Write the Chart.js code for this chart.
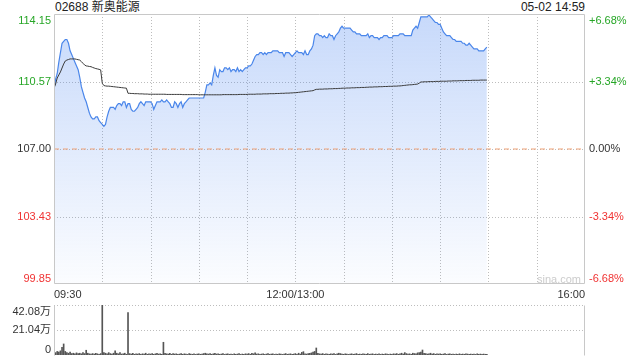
<!DOCTYPE html>
<html><head><meta charset="utf-8">
<script src="https://cdn.jsdelivr.net/npm/chart.js@4.4.1/dist/chart.umd.min.js"></script>
<style>
html,body{margin:0;padding:0;background:#fff;width:640px;height:360px;overflow:hidden;}
#wrap{position:relative;width:640px;height:360px;font-family:"Liberation Sans","Noto Sans CJK SC",Arial,sans-serif;}
canvas{position:absolute;left:0;}
#title{position:absolute;left:55px;top:0;font-size:12px;line-height:15px;color:#222;white-space:nowrap;}
#stamp{position:absolute;right:55px;top:0;font-size:12px;line-height:15px;color:#222;white-space:nowrap;}
#wm{position:absolute;left:537px;top:272px;font-size:11px;line-height:14px;color:#cccccc;}
</style></head>
<body><div id="wrap">
<div id="title">02688 新奥能源</div><div id="stamp">05-02 14:59</div>
<canvas id="main" width="640" height="300" style="top:0"></canvas>
<canvas id="vol" width="640" height="60" style="top:300px"></canvas>
<div id="wm">sina.com</div>
</div>
<script>
// ---- data ----
const prevClose = 107.00;
const sessionMinutes = 330; // 09:30-12:00 + 13:00-16:00
const timeTicks = [0, 150, 330];
const timeLabels = ["09:30", "12:00/13:00", "16:00"];
const gridMinutes = [0,30,60,90,120,150,180,210,240,270,300,330];
const yTicks = [99.85, 103.425, 107.00, 110.575, 114.15];
const yTickLabels = ["99.85", "103.43", "107.00", "110.57", "114.15"];
const pctTickLabels = ["-6.68%", "-3.34%", "0.00%", "+3.34%", "+6.68%"];
const volTicks = [0, 21.04, 42.08];
const volTickLabels = ["0", "21.04万", "42.08万"];

const prices = [
110.2,110.7,111.0,111.6,112.1,112.6,112.7,112.8,112.8,112.6,
112.2,112.0,111.8,111.6,111.4,111.2,110.8,110.3,110.0,109.7,
109.5,109.2,108.9,108.7,108.6,108.6,108.7,108.7,108.5,108.4,
108.3,108.2,108.3,108.7,109.0,109.2,109.2,109.2,109.1,109.3,
109.4,109.4,109.3,109.5,109.5,109.2,109.4,109.4,109.1,109.0,
109.0,109.1,109.2,109.4,109.5,109.4,109.3,109.5,109.5,109.5,
109.5,109.4,109.1,109.3,109.5,109.5,109.5,109.6,109.5,109.5,
109.6,109.5,109.4,109.2,109.2,109.5,109.4,109.2,109.4,109.5,
109.2,109.4,109.5,109.6,109.7,109.7,109.7,109.7,109.7,109.7,
109.7,109.7,109.7,109.7,110.0,110.4,110.4,110.5,110.4,110.9,
111.3,110.9,110.8,111.2,111.1,111.1,111.3,111.3,111.2,111.3,
111.1,111.2,111.2,111.1,111.3,111.1,111.2,111.1,111.2,111.3,
111.3,111.4,111.4,111.5,111.7,111.9,112.0,112.0,112.1,112.1,
112.0,112.1,112.0,112.1,112.1,112.1,112.2,112.2,112.2,112.2,
112.1,112.1,112.1,111.9,112.1,112.1,112.1,112.0,111.9,112.0,
112.1,112.2,112.1,112.1,112.1,112.0,112.2,112.0,112.0,112.2,
112.3,112.5,113.0,113.1,113.1,113.0,113.0,112.9,113.0,112.9,
112.9,113.1,113.0,113.0,112.8,113.0,113.1,113.2,113.4,113.5,
113.4,113.4,113.4,113.4,113.4,113.3,113.2,113.2,113.1,113.1,
113.1,113.0,113.0,113.0,113.0,113.1,112.9,113.0,113.0,112.9,
112.9,112.9,112.8,112.9,112.9,113.0,113.0,113.0,112.9,112.9,
112.9,113.0,113.0,113.0,113.0,113.1,113.1,113.1,113.0,113.0,
113.0,113.0,113.0,113.3,113.4,113.5,113.4,113.7,114.0,114.0,
114.0,114.0,114.0,114.1,114.0,113.9,113.8,113.7,113.7,113.6,
113.6,113.4,113.2,113.1,113.0,113.0,113.0,112.9,112.8,112.8,
112.7,112.7,112.7,112.7,112.6,112.6,112.5,112.5,112.6,112.5,
112.4,112.3,112.3,112.3,112.2,112.2,112.2,112.2,112.3,112.4
];

const avgPrices = [
110.22,110.44,110.76,110.92,111.08,111.29,111.50,111.66,111.71,111.74,
111.77,111.77,111.77,111.77,111.75,111.73,111.71,111.63,111.54,111.45,
111.40,111.39,111.37,111.36,111.32,111.29,111.26,111.24,111.22,111.19,
110.48,110.36,110.34,110.33,110.33,110.32,110.31,110.30,110.29,110.28,
110.27,110.26,110.25,110.24,110.23,110.22,109.95,109.95,109.94,109.94,
109.93,109.93,109.93,109.92,109.92,109.92,109.91,109.91,109.91,109.90,
109.90,109.90,109.90,109.90,109.90,109.90,109.90,109.90,109.90,109.90,
109.89,109.89,109.89,109.89,109.89,109.89,109.89,109.89,109.89,109.89,
109.88,109.88,109.88,109.88,109.88,109.88,109.88,109.88,109.88,109.88,
109.87,109.87,109.87,109.87,109.87,109.87,109.87,109.87,109.87,109.87,
109.87,109.87,109.87,109.87,109.87,109.88,109.88,109.88,109.88,109.88,
109.88,109.88,109.88,109.88,109.88,109.89,109.89,109.89,109.89,109.89,
109.89,109.90,109.90,109.90,109.90,109.90,109.91,109.91,109.91,109.91,
109.92,109.92,109.92,109.92,109.93,109.93,109.93,109.93,109.94,109.94,
109.94,109.95,109.95,109.95,109.96,109.96,109.96,109.97,109.97,109.98,
109.98,109.99,110.00,110.01,110.02,110.03,110.04,110.05,110.06,110.07,
110.08,110.09,110.13,110.16,110.16,110.17,110.17,110.17,110.18,110.18,
110.18,110.19,110.19,110.19,110.20,110.20,110.20,110.21,110.21,110.22,
110.22,110.22,110.23,110.23,110.23,110.24,110.24,110.24,110.25,110.25,
110.25,110.26,110.26,110.26,110.27,110.27,110.28,110.28,110.28,110.29,
110.29,110.29,110.30,110.30,110.30,110.31,110.31,110.31,110.32,110.32,
110.32,110.33,110.33,110.33,110.34,110.34,110.35,110.36,110.37,110.38,
110.39,110.40,110.40,110.41,110.42,110.43,110.44,110.49,110.55,110.55,
110.56,110.56,110.56,110.57,110.57,110.57,110.57,110.58,110.58,110.58,
110.58,110.59,110.59,110.59,110.59,110.60,110.60,110.60,110.61,110.61,
110.61,110.61,110.62,110.62,110.62,110.62,110.63,110.63,110.63,110.63,
110.64,110.64,110.64,110.64,110.64,110.65,110.65,110.65,110.65,110.65
];

// volume per minute, in 万 shares
const volumes = [
3.5,2.0,3.0,2.5,3.5,6.5,9.3,3.0,2.0,1.5,
2.5,1.2,1.5,1.0,1.8,1.2,1.5,1.0,2.0,1.2,
4.0,1.5,1.0,0.8,1.2,0.8,1.5,1.0,0.6,1.2,
42.0,2.0,1.5,1.0,2.0,1.2,0.8,1.5,3.6,1.5,
1.0,2.0,0.8,1.0,1.5,0.6,35.6,1.2,0.8,1.5,
0.6,1.0,0.8,1.2,0.5,1.0,0.8,1.5,0.6,1.0,
0.8,1.2,0.6,1.0,1.5,0.8,1.0,0.6,10.7,1.5,
1.0,0.8,1.5,0.6,1.2,0.8,1.0,0.5,0.8,1.2,
0.6,1.0,0.8,0.5,1.2,0.8,0.6,1.0,0.5,0.8,
1.0,0.6,0.8,1.2,1.5,1.0,0.8,1.2,0.6,1.0,
1.5,0.8,1.0,0.6,0.8,1.2,0.5,0.8,1.0,0.6,
0.8,0.5,1.0,0.6,0.8,1.2,0.5,0.8,0.6,1.0,
0.8,1.2,0.6,1.5,1.0,1.8,0.8,1.0,0.6,0.8,
1.0,0.5,0.8,1.2,0.6,0.8,1.0,0.5,0.8,0.6,
1.0,0.8,0.5,0.8,1.2,0.6,0.8,1.0,0.5,0.8,
1.2,0.6,1.5,0.8,2.2,2.8,1.0,0.8,1.2,1.5,
1.8,2.5,3.0,5.9,1.5,1.0,0.8,1.2,0.6,1.0,
0.8,0.6,1.0,0.8,1.2,0.5,1.0,1.5,1.2,0.8,
0.6,1.0,0.8,0.5,0.8,1.0,0.6,0.8,1.2,0.5,
0.8,0.6,1.0,0.8,0.5,1.2,0.6,0.8,1.0,0.5,
0.8,0.6,1.0,0.5,0.8,0.6,1.0,0.8,0.5,0.8,
0.6,1.0,0.8,1.2,0.6,1.0,1.5,0.8,2.0,1.2,
0.8,1.0,0.6,1.5,1.2,1.0,1.8,2.0,2.5,4.2,
1.5,1.2,0.8,1.0,1.5,0.8,1.2,0.6,1.0,0.8,
1.0,0.6,0.8,1.2,0.5,0.8,1.0,0.6,0.8,0.5,
0.8,0.6,1.0,0.5,0.8,0.6,1.0,0.8,0.5,0.8,
0.6,0.8,0.5,1.0,0.6,0.8,0.5,0.8,0.6,0.5
];
const minutes = prices.map((_, i) => i);

// ---- styling / rendering ----
const FONT = "11px 'Liberation Sans','Noto Sans CJK SC',Arial,sans-serif";
const UP = '#26a626', DOWN = '#f03333', FLAT = '#333333';
function colorFor(v) { return Math.abs(v - prevClose) < 1e-9 ? FLAT : (v > prevClose ? UP : DOWN); }

// dotted grid (positions from the chart's own scales), solid frame, side labels
const sideText = {
  id: 'sideText',
  beforeDatasetsDraw(chart, args, opts) {
    const {ctx, chartArea: a} = chart;
    const xs = chart.scales.x, ys = chart.scales.y;
    const L = Math.round(a.left), R = Math.round(a.right), T = Math.round(a.top), B = Math.round(a.bottom);
    ctx.save();
    ctx.fillStyle = '#bdbdbd';
    (opts.xGrid || []).forEach(v => {
      const px = Math.round(xs.getPixelForValue(v));
      for (let y = T; y < B; y += 3) ctx.fillRect(px, y, 1, 1);
    });
    (opts.yGrid || []).forEach(v => {
      const py = Math.round(ys.getPixelForValue(v));
      for (let x = L; x < R; x += 3) ctx.fillRect(x, py, 1, 1);
    });
    ctx.restore();
  },
  afterDraw(chart, args, opts) {
    const {ctx, chartArea: a} = chart;
    const ys = chart.scales.y;
    const L = Math.round(a.left) + 0.5, R = Math.round(a.right) - 0.5;
    const T = Math.round(a.top) + 0.5, B = Math.round(a.bottom) - 0.5;
    ctx.save();
    ctx.strokeStyle = '#c8c8c8';
    ctx.lineWidth = 1;
    ctx.setLineDash([]);
    ctx.beginPath();
    if (opts.fullFrame) {
      ctx.rect(L, T, R - L, B - T);
    } else {
      ctx.moveTo(L, T); ctx.lineTo(L, B + 1);
      ctx.moveTo(R, T); ctx.lineTo(R, B + 1);
    }
    ctx.stroke();
    ctx.font = FONT;
    const place = (items, side) => {
      items.forEach(it => {
        const py = ys.getPixelForValue(it.value);
        let base = 'middle';
        if (Math.abs(py - a.bottom) < 1.5) base = 'bottom';
        else if (Math.abs(py - a.top) < 1.5) base = 'top';
        ctx.textBaseline = base;
        ctx.fillStyle = it.color;
        const yy = py + (base === 'top' ? 1 : 0);
        if (side === 'left') { ctx.textAlign = 'right'; ctx.fillText(it.text, a.left - 3, yy); }
        else { ctx.textAlign = 'left'; ctx.fillText(it.text, a.right + 4, yy); }
      });
    };
    if (opts.left) place(opts.left, 'left');
    if (opts.right) place(opts.right, 'right');
    ctx.restore();
  }
};

new Chart(document.getElementById('main'), {
  type: 'line',
  data: {
    datasets: [
      { label: '均价', data: avgPrices.map((v, i) => ({x: minutes[i], y: v})),
        borderColor: '#3a3a3a', borderWidth: 1, pointRadius: 0, fill: false, order: 1, tension: 0 },
      { label: '昨收', data: [{x: 0, y: prevClose}, {x: sessionMinutes, y: prevClose}],
        borderColor: '#f0a276', borderWidth: 1, borderDash: [5, 4], pointRadius: 0, fill: false, order: 2 },
      { label: '价格', data: prices.map((v, i) => ({x: minutes[i], y: v})),
        borderColor: '#4a86ea', borderWidth: 1.2, pointRadius: 0, fill: 'start', order: 3, tension: 0,
        backgroundColor: (c) => {
          const {ctx, chartArea} = c.chart;
          if (!chartArea) return 'rgba(70,130,240,0.15)';
          const g = ctx.createLinearGradient(0, chartArea.top, 0, chartArea.bottom);
          g.addColorStop(0, 'rgba(70,130,240,0.30)');
          g.addColorStop(1, 'rgba(70,130,240,0.02)');
          return g;
        } }
    ]
  },
  options: {
    responsive: false, animation: false,
    layout: {padding: {left: 54, right: 55, top: 14, bottom: 0}},
    plugins: {
      legend: {display: false}, tooltip: {enabled: false},
      sideText: {
        fullFrame: true,
        xGrid: gridMinutes.slice(1, -1),
        yGrid: yTicks.slice(1, -1),
        left: yTicks.map((v, i) => ({value: v, text: yTickLabels[i], color: colorFor(v)})),
        right: yTicks.map((v, i) => ({value: v, text: pctTickLabels[i], color: colorFor(v)}))
      }
    },
    scales: {
      x: {
        type: 'linear', min: 0, max: sessionMinutes, offset: false,
        afterBuildTicks: s => { s.ticks = gridMinutes.map(v => ({value: v})); },
        afterFit: s => { s.height = 16; },
        grid: {display: false, drawTicks: false},
        border: {display: false},
        ticks: {
          autoSkip: false, maxRotation: 0, minRotation: 0, align: 'inner', padding: 4,
          color: '#333', font: {size: 11, family: "'Liberation Sans','Noto Sans CJK SC',Arial,sans-serif"},
          callback: (v) => { const k = timeTicks.indexOf(v); return k >= 0 ? timeLabels[k] : ''; }
        }
      },
      y: {
        min: yTicks[0], max: yTicks[yTicks.length - 1],
        afterBuildTicks: s => { s.ticks = yTicks.map(v => ({value: v})); },
        afterFit: s => { s.width = 0; },
        grid: {display: false, drawTicks: false},
        border: {display: false},
        ticks: {display: false}
      }
    }
  },
  plugins: [sideText]
});

new Chart(document.getElementById('vol'), {
  type: 'bar',
  data: {
    datasets: [{ label: '成交量', data: volumes.map((v, i) => ({x: minutes[i], y: v})),
      backgroundColor: '#555555', borderWidth: 0, barThickness: 1 }]
  },
  options: {
    responsive: false, animation: false,
    layout: {padding: {left: 54, right: 55, top: 5, bottom: 5}},
    plugins: {
      legend: {display: false}, tooltip: {enabled: false},
      sideText: {
        fullFrame: false,
        xGrid: [],
        yGrid: volTicks.slice(1),
        left: volTicks.map((v, i) => ({value: v, text: volTickLabels[i], color: '#333'}))
      }
    },
    scales: {
      x: {type: 'linear', min: 0, max: sessionMinutes, offset: false, display: false},
      y: {
        min: volTicks[0], max: volTicks[volTicks.length - 1],
        afterBuildTicks: s => { s.ticks = volTicks.map(v => ({value: v})); },
        afterFit: s => { s.width = 0; },
        grid: {display: false, drawTicks: false},
        border: {display: false},
        ticks: {display: false}
      }
    }
  },
  plugins: [sideText]
});
</script>
</body></html>
